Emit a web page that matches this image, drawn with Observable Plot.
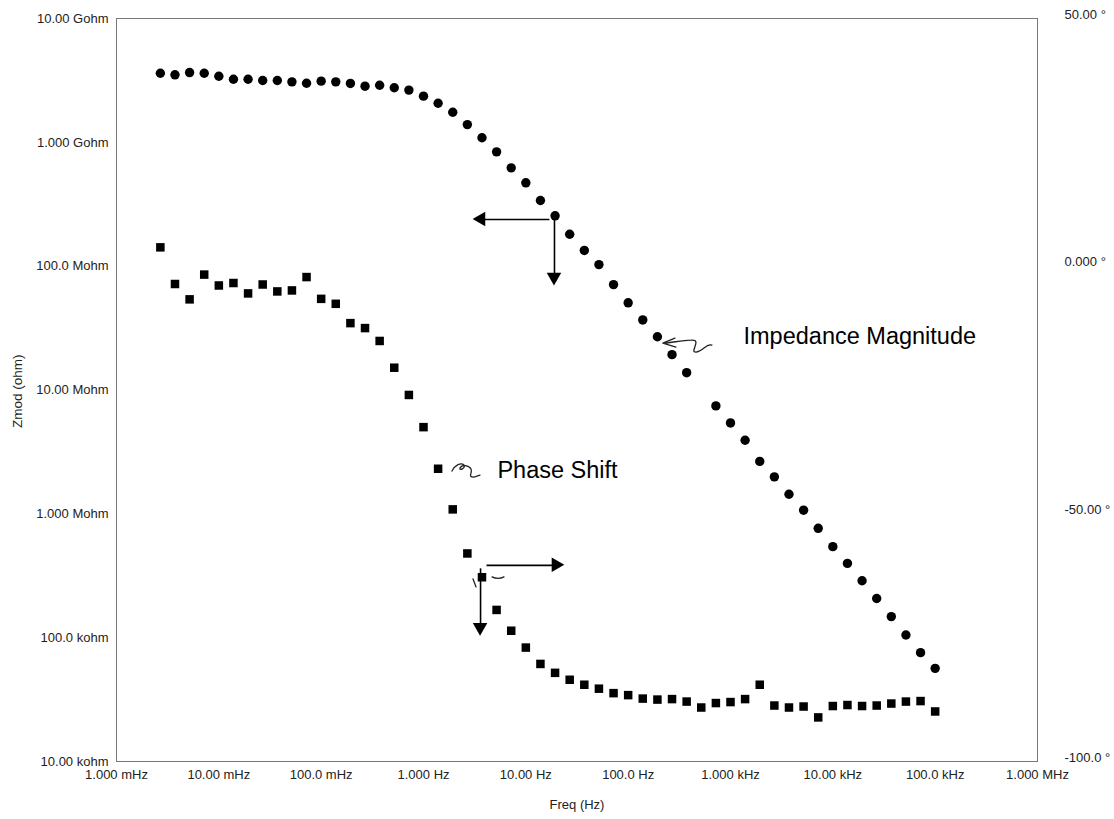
<!DOCTYPE html>
<html>
<head>
<meta charset="utf-8">
<script src="https://cdn.jsdelivr.net/npm/d3@7"></script>
<script src="https://cdn.jsdelivr.net/npm/@observablehq/plot@0.6"></script>
<style>
  html, body { margin: 0; padding: 0; background: #fff; }
  #chart svg { display: block; }
</style>
</head>
<body>
<div id="chart"></div>
<script>
// Measurement frequencies (Hz), 7 points per decade
const freqHz = [
  0.002683, 0.003728, 0.005179, 0.007197,
  0.01, 0.01389, 0.01931, 0.02683, 0.03728, 0.05179, 0.07197,
  0.1, 0.1389, 0.1931, 0.2683, 0.3728, 0.5179, 0.7197,
  1, 1.389, 1.931, 2.683, 3.728, 5.179, 7.197,
  10, 13.89, 19.31, 26.83, 37.28, 51.79, 71.97,
  100, 138.9, 193.1, 268.3, 372.8, 517.9, 719.7,
  1000, 1389, 1931, 2683, 3728, 5179, 7197,
  10000, 13890, 19310, 26830, 37280, 51790, 71970,
  100000
];

// Impedance magnitude |Z| (ohm); null where the point is covered by a label box
const zmodOhm = [
  3.61e9, 3.51e9, 3.66e9, 3.61e9, 3.42e9, 3.23e9, 3.23e9, 3.16e9, 3.16e9, 3.08e9,
  3.00e9, 3.12e9, 3.08e9, 2.99e9, 2.84e9, 2.89e9, 2.76e9, 2.64e9, 2.36e9, 2.07e9,
  1.75e9, 1.39e9, 1.09e9, 8.38e8, 6.22e8, 4.71e8, 3.39e8, 2.55e8, 1.81e8, 1.34e8,
  1.03e8, 7.10e7, 5.06e7, 3.68e7, 2.69e7, 1.93e7, 1.38e7, null, 7.44e6, 5.42e6,
  3.93e6, 2.65e6, 1.99e6, 1.44e6, 1.07e6, 7.64e5, 5.43e5, 3.98e5, 2.88e5, 2.07e5,
  1.48e5, 1.05e5, 7.57e4, 5.65e4
];

// Phase shift (degrees), right-hand axis
const phaseDeg = [
  3.8, -3.6, -6.7, -1.7, -3.9, -3.4, -5.5, -3.7, -5.1, -4.9,
  -2.2, -6.6, -7.6, -11.5, -12.5, -15.1, -20.5, -26.0, -32.5, -40.9,
  -49.1, -58.0, -62.8, -69.4, -73.6, -77.0, -80.3, -82.1, -83.5, -84.5,
  -85.3, -86.2, -86.6, -87.3, -87.5, -87.4, -87.9, -89.1, -88.2, -88.0,
  -87.4, -84.5, -88.7, -89.1, -88.9, -91.1, -88.8, -88.6, -88.8, -88.7,
  -88.3, -87.9, -87.8, -89.9
];

// Axis ticks and their printed labels
const xTicks = [1e-3, 1e-2, 1e-1, 1, 10, 100, 1e3, 1e4, 1e5, 1e6];
const xTickLabels = ["1.000 mHz", "10.00 mHz", "100.0 mHz", "1.000 Hz", "10.00 Hz",
  "100.0 Hz", "1.000 kHz", "10.00 kHz", "100.0 kHz", "1.000 MHz"];
const zTicks = [1e4, 1e5, 1e6, 1e7, 1e8, 1e9, 1e10];
const zTickLabels = ["10.00 kohm", "100.0 kohm", "1.000 Mohm", "10.00 Mohm",
  "100.0 Mohm", "1.000 Gohm", "10.00 Gohm"];
const phaseTicks = [-100, -50, 0, 50];
const phaseTickLabels = ["-100.0 °", "-50.00 °", "0.000 °", "50.00 °"];

// Annotation labels (frequency, |Z| position)
const notes = [
  {text: "Impedance Magnitude", f: 1340, z: 2.70e7},
  {text: "Phase Shift", f: 5.28, z: 2.23e6}
];

// The phase axis spans -100..50 degrees over the same height as 10 kohm..10 Gohm
const phaseToZ = deg => 10 ** (4 + (deg + 100) / 25);
const phaseTickZ = phaseTicks.map(phaseToZ);

// Axis-pointer arrows: magnitude arrows in ohm, phase arrows in degrees
const arrows = [
  {f1: 17.0, z1: 2.38e8, f2: 3.69, z2: 2.38e8, rot: -90, dx: 8.5, dy: 0},
  {f1: 19.05, z1: 2.43e8, f2: 19.05, z2: 8.10e7, rot: 180, dx: 0, dy: -8.5},
  {f1: 4.13, z1: phaseToZ(-60.4), f2: 19.9, z2: phaseToZ(-60.4), rot: 90, dx: -8.5, dy: 0},
  {f1: 3.61, z1: phaseToZ(-61.0), f2: 3.61, z2: phaseToZ(-73.0), rot: 180, dx: 0, dy: -8.5}
];

// Hand-drawn pointer scribbles, anchored in data space, drawn in local pixels
const scribbles = [
  {f: 221, z: 2.37e7, d: "M0,0 L12,-5 M0,0 L13,4 M3,0 C12,-1 20,-3 28,-3 C40,-4 26,9 33,9 C40,9 43,0 49,2"},
  {f: 1.92, z: 2.32e6, d: "M0,3 C3,-3 9,-6 12,-3 C14,0 7,3 8,0 C10,-4 17,-3 19,1 C21,5 15,9 22,9 L28,7"},
  {f: 3.45, z: 3.83e5, d: "M-5,14 L-2,22 M14,12 C18,14 22,14 26,12"}
];

const points = freqHz.map((f, i) => ({f, z: zmodOhm[i], phase: phaseDeg[i]}));

function scribbleMark(s) {
  return (index, scales) => {
    const x = scales.x(s.f), y = scales.y(s.z);
    return d3.create("svg:path")
      .attr("d", s.d)
      .attr("transform", `translate(${x},${y})`)
      .attr("fill", "none")
      .attr("stroke", "#222")
      .attr("stroke-width", 1.3)
      .attr("stroke-linecap", "round")
      .node();
  };
}

const font = "'Liberation Sans', Arial, Helvetica, sans-serif";

const chart = Plot.plot({
  width: 1114,
  height: 819,
  marginLeft: 116,
  marginRight: 77,
  marginTop: 18,
  marginBottom: 58,
  style: {fontFamily: font, fontSize: "13px", color: "#222", background: "#fff"},
  x: {type: "log", domain: [1e-3, 1e6]},
  y: {type: "log", domain: [1e4, 1e10]},
  marks: [
    Plot.frame({stroke: "#777", strokeWidth: 1}),
    Plot.axisX({ticks: xTicks, tickFormat: d => xTickLabels[xTicks.indexOf(d)],
      tickSize: 0, tickPadding: 8, fontSize: 13, label: null}),
    Plot.axisY({ticks: zTicks, tickFormat: d => zTickLabels[zTicks.indexOf(d)],
      tickSize: 0, tickPadding: 8, fontSize: 13, label: null}),
    Plot.axisY({anchor: "right", ticks: phaseTickZ,
      tickFormat: d => phaseTickLabels[phaseTickZ.indexOf(d)],
      tickSize: 0, tickPadding: 27, dy: -4, fontSize: 13, label: null}),
    Plot.text(["Freq (Hz)"], {frameAnchor: "bottom", dy: 47, fontSize: 13}),
    Plot.text(["Zmod (ohm)"], {frameAnchor: "left", rotate: -90, dx: -99, dy: 38, fontSize: 13.5}),
    // Impedance magnitude: filled circles
    Plot.dot(points.filter(p => p.z != null), {x: "f", y: "z", r: 4.7, fill: "#000", stroke: null}),
    // Phase shift: filled squares on the degree axis
    Plot.dot(points, {x: "f", y: p => phaseToZ(p.phase), symbol: "square", r: 4.8, fill: "#000", stroke: null}),
    // Pointer arrows
    Plot.link(arrows, {x1: "f1", y1: "z1", x2: "f2", y2: "z2", stroke: "#000", strokeWidth: 1.6}),
    Plot.dot(arrows, {x: "f2", y: "z2", symbol: "triangle", rotate: "rot", dx: "dx", dy: "dy", r: 5.4, fill: "#000", stroke: null}),
    ...scribbles.map(scribbleMark),
    Plot.text(notes, {x: "f", y: "z", text: "text", textAnchor: "start", fontSize: 23.5, fill: "#000"})
  ]
});

document.getElementById("chart").appendChild(chart);
</script>
</body>
</html>
